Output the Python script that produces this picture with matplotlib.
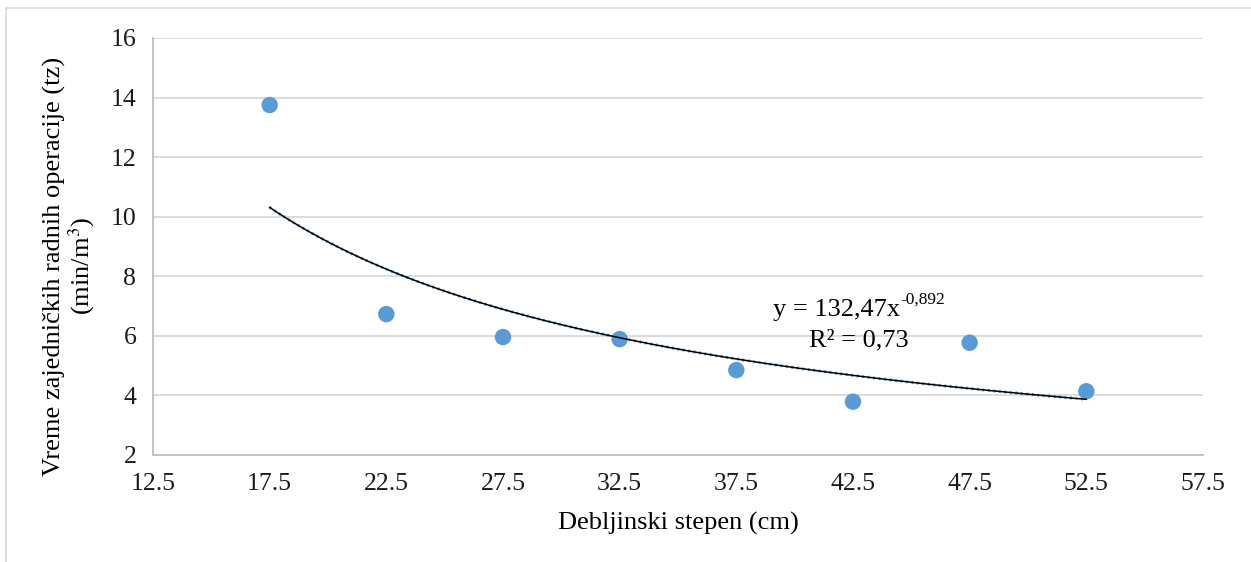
import numpy as np
import matplotlib.pyplot as plt
from matplotlib.lines import Line2D

plt.rcParams['font.family'] = ['Liberation Serif', 'DejaVu Serif']
plt.rcParams['mathtext.fontset'] = 'stix'

# data
debljinski_stepen = [17.5, 22.5, 27.5, 32.5, 37.5, 42.5, 47.5, 52.5]
vreme_tz = [13.75, 6.73, 5.96, 5.89, 4.85, 3.79, 5.77, 4.14]
# power trendline coefficients as printed on chart
coef_a = 132.47
coef_b = -0.892
xticks = [12.5, 17.5, 22.5, 27.5, 32.5, 37.5, 42.5, 47.5, 52.5, 57.5]
yticks = [2, 4, 6, 8, 10, 12, 14, 16]

blue = '#5B9BD5'

fig = plt.figure(figsize=(12.51, 5.62), dpi=100)
ax = fig.add_axes([0.1223, 0.1904, 0.8393, 0.742])

# outer chart frame (top and left edges visible)
W, H = 1251, 562
fig.add_artist(Line2D([6 / W, 1.0], [1 - 8 / H, 1 - 8 / H], color='#D9D9D9', lw=1.2, transform=fig.transFigure))
fig.add_artist(Line2D([6 / W, 6 / W], [0.0, 1 - 8 / H], color='#D9D9D9', lw=1.2, transform=fig.transFigure))

ax.scatter(debljinski_stepen, vreme_tz, s=140, color=blue, zorder=3, edgecolors='none')

xs = np.linspace(min(debljinski_stepen), max(debljinski_stepen), 200)
ys = coef_a * xs ** coef_b
ax.plot(xs, ys, color=blue, lw=2.2, ls=(0, (0.6, 1.2)), zorder=4)
ax.plot(xs, ys, color='black', lw=1.1, zorder=5)

ax.set_xlim(12.5, 57.5)
ax.set_ylim(2, 16)
ax.set_xticks(xticks)
ax.set_xticklabels([str(t) for t in xticks])
ax.set_yticks(yticks)
ax.grid(axis='y', color='#D9D9D9', lw=1.3)
ax.set_axisbelow(True)
for s in ['top', 'right']:
    ax.spines[s].set_visible(False)
for s in ['left', 'bottom']:
    ax.spines[s].set_color('#BFBFBF')
    ax.spines[s].set_linewidth(1.3)
ax.tick_params(length=0, labelsize=18.5, labelcolor='#1a1a1a')
ax.tick_params(axis='x', pad=13)
ax.tick_params(axis='y', pad=12)

ax.set_xlabel('Debljinski stepen (cm)', fontsize=19, labelpad=12)
ax.set_ylabel('Vreme zajedničkih radnih operacije (tz)\n(min/m$^{3}$)', fontsize=19,
              linespacing=1.0)
ax.yaxis.set_label_coords(-0.0533, 0.453)

# trendline label
t1 = ax.text(39.07, 6.65, 'y = 132,47x', fontsize=19, ha='left', va='baseline')
ax.annotate('-0,892', xy=(1.0, 0.62), xycoords=t1, fontsize=12.5, ha='left', va='bottom')
ax.text(42.76, 5.66, 'R² = 0,73', fontsize=19, ha='center', va='baseline')

fig.savefig('out.png', dpi=100)
